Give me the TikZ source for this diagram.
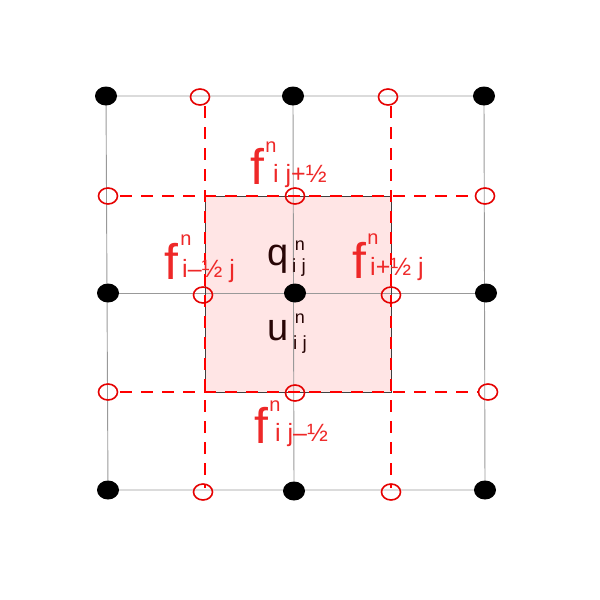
\documentclass[tikz,border=0pt]{standalone}
\usepackage{fontspec}
\setmainfont{Liberation Sans}
\usetikzlibrary{shapes.geometric}
\definecolor{lred}{RGB}{238,40,40}
\definecolor{dk}{RGB}{40,5,5}
\begin{document}
\begin{tikzpicture}[x=1pt,y=-1pt,
  gridline/.style={draw=gray!80, line width=0.9pt},
  dashline/.style={draw=red, line width=1.2pt, dash pattern=on 12pt off 9pt},
  dot/.style={ellipse, fill=black, minimum width=22pt, minimum height=19pt, inner sep=0pt},
  ring/.style={ellipse, draw=red!90!black, line width=1.6pt, minimum width=19pt, minimum height=16pt, inner sep=0pt},
  big/.style={text=lred, font=\fontsize{50}{50}\selectfont, inner sep=0pt},
  sup/.style={text=lred, font=\fontsize{20}{20}\selectfont, inner sep=0pt},
  sub/.style={text=lred, font=\fontsize{25}{25}\selectfont, inner sep=0pt, anchor=west},
  bbig/.style={text=dk, font=\fontsize{38}{38}\selectfont, inner sep=0pt},
  bsup/.style={text=dk, font=\fontsize{18}{18}\selectfont, inner sep=0pt},
  bsub/.style={text=dk, font=\fontsize{19}{19}\selectfont, inner sep=0pt, anchor=west}]
\useasboundingbox (0,0) rectangle (600,600);
% grid coordinates
\coordinate (a1) at (106,96);  \coordinate (a2) at (293,96);  \coordinate (a3) at (484,96);
\coordinate (b1) at (108,293); \coordinate (b2) at (295,293); \coordinate (b3) at (486,293);
\coordinate (c1) at (108,490); \coordinate (c2) at (294,491); \coordinate (c3) at (485,490);
% pink cell
\fill[red!10] (205,196) rectangle (391,392);
% gray grid
\draw[gridline] (a1) -- (a3) -- (c3) -- (c1) -- cycle;
\draw[gridline] (a2) -- (c2);
\draw[gridline] (b1) -- (b3);
\draw[draw=black!75, line width=0.9pt] (205,196) rectangle (391,392);
% dashed lines
\coordinate (v1t) at (205,106); \coordinate (v1b) at (205,488);
\coordinate (v2t) at (391,106); \coordinate (v2b) at (391,488);
\coordinate (h1l) at (120,196); \coordinate (h1r) at (476,196);
\coordinate (h2l) at (120,392); \coordinate (h2r) at (478,392);
\draw[dashline] (v1t) -- (v1b);
\draw[dashline] (v2t) -- (v2b);
\draw[dashline] (h1l) -- (h1r);
\draw[dashline] (h2l) -- (h2r);
% dots
\foreach \n in {a1,a2,a3,b1,b2,b3,c1,c2,c3} \node[dot] (d\n) at (\n) {};
% rings
\node[ring] (r1) at (200,97) {};
\node[ring] (r2) at (388,97) {};
\node[ring] (r3) at (108,196) {};
\node[ring] (r4) at (295,196) {};
\node[ring] (r5) at (485,196) {};
\node[ring] (r6) at (203,295) {};
\node[ring] (r7) at (391,295) {};
\node[ring] (r8) at (108,392) {};
\node[ring] (r9) at (295,393) {};
\node[ring] (r10) at (488,392) {};
\node[ring] (r11) at (203,492) {};
\node[ring] (r12) at (391,492) {};
% labels: top
\node[big] (tf) at (257,166) {f};
\node[sup] (tn) at (271,147) {n};
\node[sub] (ts) at (273,176) {i j+½};
% left
\node[big] (lf) at (171,261) {f};
\node[sup] (ln) at (186,240) {n};
\node[sub] (ls) at (182,271) {i–½ j};
% right
\node[big] (rf) at (359,260) {f};
\node[sup] (rn) at (373,239) {n};
\node[sub] (rs) at (370,269) {i+½ j};
% bottom
\node[big] (bf) at (261,425) {f};
\node[sup] (bn) at (275,406) {n};
\node[sub] (bs) at (275,435) {i j–½};
% q and u
\node[bbig] (qq) at (278,259) {q};
\node[bsup] (qn) at (300,246) {n};
\node[bsub] (qs) at (292,268) {i j};
\node[bbig] (uu) at (278,331) {u};
\node[bsup] (un) at (300,319) {n};
\node[bsub] (us) at (293,345) {i j};
\end{tikzpicture}
\end{document}
